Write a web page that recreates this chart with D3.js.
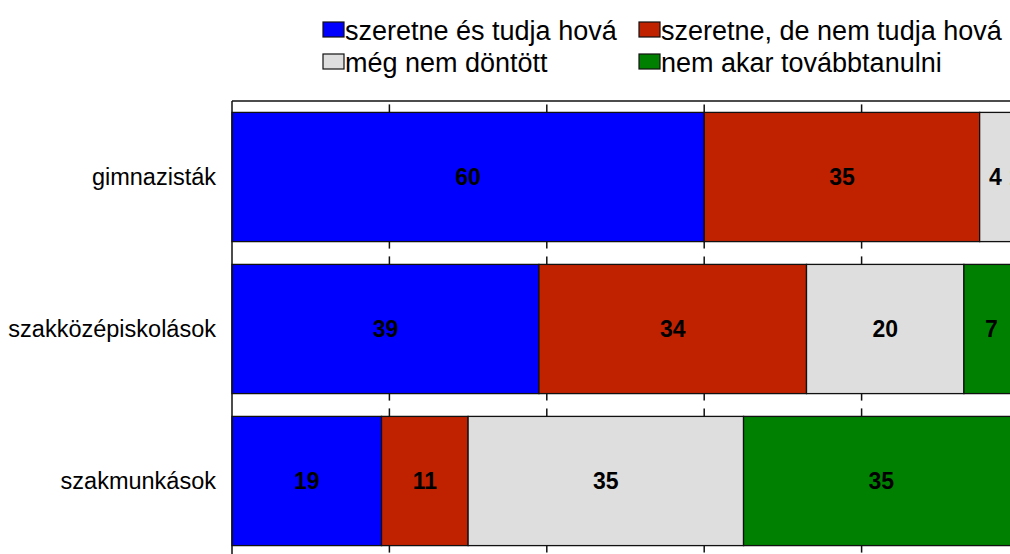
<!DOCTYPE html>
<html>
<head>
<meta charset="utf-8">
<script src="https://cdn.jsdelivr.net/npm/d3@7.9.0/dist/d3.min.js"></script>
<style>
  body { margin: 0; background: #fff; }
  svg { display: block; font-family: "Liberation Sans", Arial, sans-serif; }
</style>
</head>
<body>
<svg width="1010" height="554"></svg>
<script>
// data
const categories = ['gimnazisták', 'szakközépiskolások', 'szakmunkások'];
const seriesNames = ['szeretne és tudja hová', 'szeretne, de nem tudja hová', 'még nem döntött', 'nem akar továbbtanulni'];
const wantKnow = [60, 39, 19];
const wantDontKnow = [35, 34, 11];
const undecided = [4, 20, 35];
const noFurther = [1, 7, 35];
const tickValues = [0, 20, 40, 60, 80, 100];

const colors = ['#0000ff', '#c02200', '#dedede', '#008000'];

const series = [wantKnow, wantDontKnow, undecided, noFurther];
const rows = categories.map((c, i) => {
  let r = { cat: c };
  seriesNames.forEach((s, j) => r[s] = series[j][i]);
  return r;
});

const svg = d3.select('svg');
const x = d3.scaleLinear().domain([0, 100]).range([232, 1019]);
const y = d3.scaleBand().domain(categories).range([101, 557])
  .paddingInner(0.15).paddingOuter(0.075);

const stacked = d3.stack().keys(seriesNames)(rows);

// little tick marks in the gaps between the bars
const gridG = svg.append('g');
categories.forEach(c => {
  const top = y(c), bot = y(c) + y.bandwidth();
  tickValues.slice(1, -1).forEach(t => {
    gridG.append('line')
      .attr('x1', x(t)).attr('x2', x(t))
      .attr('y1', top - 8).attr('y2', top)
      .attr('stroke', '#111').attr('stroke-width', 1.5);
    gridG.append('line')
      .attr('x1', x(t)).attr('x2', x(t))
      .attr('y1', bot).attr('y2', bot + 7)
      .attr('stroke', '#111').attr('stroke-width', 1.5);
  });
});

// bars
stacked.forEach((layer, j) => {
  svg.append('g').selectAll('rect')
    .data(layer)
    .join('rect')
    .attr('x', d => x(d[0]))
    .attr('y', d => y(d.data.cat))
    .attr('width', d => x(d[1]) - x(d[0]))
    .attr('height', y.bandwidth())
    .attr('fill', colors[j])
    .attr('stroke', '#111')
    .attr('stroke-width', 1.3);
});

// value labels
stacked.forEach(layer => {
  svg.append('g').selectAll('text')
    .data(layer)
    .join('text')
    .attr('x', d => (x(d[0]) + x(d[1])) / 2)
    .attr('y', d => y(d.data.cat) + y.bandwidth() / 2)
    .attr('dy', '0.36em')
    .attr('text-anchor', 'middle')
    .attr('font-size', 23)
    .attr('font-weight', 'bold')
    .text(d => d[1] - d[0]);
});

// frame: top and left lines
svg.append('line').attr('x1', 232).attr('x2', 1010).attr('y1', 101).attr('y2', 101)
  .attr('stroke', '#111').attr('stroke-width', 1.5);
svg.append('line').attr('x1', 232).attr('x2', 232).attr('y1', 101).attr('y2', 554)
  .attr('stroke', '#111').attr('stroke-width', 1.5);

// category labels
svg.append('g').selectAll('text')
  .data(categories)
  .join('text')
  .attr('x', 216)
  .attr('y', d => y(d) + y.bandwidth() / 2)
  .attr('dy', '0.36em')
  .attr('text-anchor', 'end')
  .attr('font-size', 23.5)
  .text(d => d);

// legend
const legendPos = [[323, 30], [639, 30], [323, 62], [639, 62]];
seriesNames.forEach((s, j) => {
  const [lx, ly] = legendPos[j];
  svg.append('rect')
    .attr('x', lx).attr('y', ly - 8)
    .attr('width', 21).attr('height', 15)
    .attr('fill', colors[j]).attr('stroke', '#111').attr('stroke-width', 1.2);
  svg.append('text')
    .attr('x', lx + 22).attr('y', ly)
    .attr('dy', '0.36em')
    .attr('font-size', 27)
    .text(s);
});
</script>
</body>
</html>
